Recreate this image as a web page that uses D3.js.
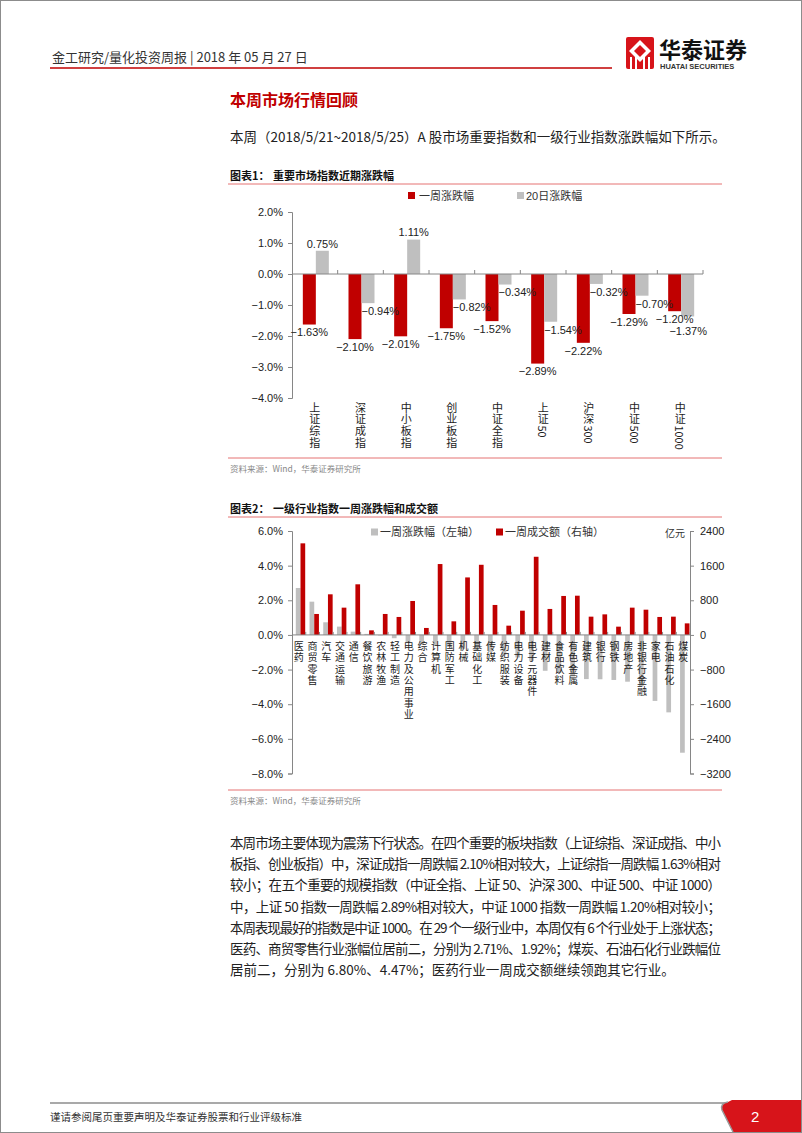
<!DOCTYPE html>
<html>
<head>
<meta charset="utf-8">
<script src="https://cdn.jsdelivr.net/npm/d3@7"></script>
<style>
  body { margin: 0; background: #fff; }
  svg text { font-family: "Liberation Sans", "Noto Sans CJK SC", sans-serif; }
  .cjk { font-family: "Noto Sans CJK SC", sans-serif; }
  .vlabel { writing-mode: vertical-rl; text-orientation: mixed; font-family: "Noto Sans CJK SC", sans-serif; }
</style>
</head>
<body>
<div id="page"></div>
<script>
// ---- chart 1: major index returns ----
const indexNames = ['上证综指', '深证成指', '中小板指', '创业板指', '中证全指', '上证50', '沪深300', '中证500', '中证1000'];
const weekChange = [-1.63, -2.10, -2.01, -1.75, -1.52, -2.89, -2.22, -1.29, -1.20];
const day20Change = [0.75, -0.94, 1.11, -0.82, -0.34, -1.54, -0.32, -0.70, -1.37];
const chart1Ticks = [2, 1, 0, -1, -2, -3, -4];

// ---- chart 2: industry returns and turnover ----
const industries = ['医药', '商贸零售', '汽车', '交通运输', '通信', '餐饮旅游', '农林牧渔', '轻工制造', '电力及公用事业',
  '综合', '计算机', '国防军工', '机械', '基础化工', '传媒', '纺织服装', '电力设备', '电子元器件', '建材', '食品饮料',
  '有色金属', '建筑', '银行', '钢铁', '房地产', '非银行金融', '家电', '石油石化', '煤炭'];
const industryChange = [2.71, 1.92, 0.73, 0.48, 0.19, 0.06, -0.03, -0.19, -0.45, -0.55, -0.62, -0.70, -0.80, -0.90,
  -1.00, -1.15, -1.30, -1.50, -2.07, -2.20, -2.40, -2.55, -2.56, -2.60, -2.70, -2.95, -3.81, -4.47, -6.80];
const industryTurnover = [2115, 484, 938, 630, 1169, 106, 484, 415, 784, 161, 1637, 314, 1328, 1620, 692, 214, 560,
  1805, 600, 900, 906, 422, 475, 191, 630, 583, 415, 422, 267];
const leftTicks2 = [6, 4, 2, 0, -2, -4, -6, -8];
const rightTicks2 = [2400, 1600, 800, 0, -800, -1600, -2400, -3200];

const bodyLines = [
  '本周市场主要体现为震荡下行状态。在四个重要的板块指数（上证综指、深证成指、中小',
  '板指、创业板指）中，深证成指一周跌幅 2.10%相对较大，上证综指一周跌幅 1.63%相对',
  '较小；在五个重要的规模指数（中证全指、上证 50、沪深 300、中证 500、中证 1000）',
  '中，上证 50 指数一周跌幅 2.89%相对较大，中证 1000 指数一周跌幅 1.20%相对较小；',
  '本周表现最好的指数是中证 1000。在 29 个一级行业中，本周仅有 6 个行业处于上涨状态；',
  '医药、商贸零售行业涨幅位居前二，分别为 2.71%、1.92%；煤炭、石油石化行业跌幅位',
  '居前二，分别为 6.80%、4.47%；医药行业一周成交额继续领跑其它行业。'
];

const RED = '#c00000';
const GRAY = '#bfbfbf';
const AXIS = '#868686';

const svg = d3.select('#page').append('svg')
  .attr('width', 802)
  .attr('height', 1133);

// page frame
svg.append('rect').attr('x', 0.5).attr('y', 0.5).attr('width', 801).attr('height', 1132)
  .attr('fill', '#fff').attr('stroke', '#8c8c8c');

// header
svg.append('text').attr('class', 'cjk').attr('x', 52).attr('y', 62).attr('font-size', 13).attr('fill', '#333')
  .text('金工研究/量化投资周报 | 2018 年 05 月 27 日');
svg.append('line').attr('x1', 50).attr('x2', 612).attr('y1', 68).attr('y2', 68)
  .attr('stroke', RED).attr('stroke-width', 1.5);

// logo
const logo = svg.append('g').attr('transform', 'translate(626,37)');
logo.append('rect').attr('width', 28).attr('height', 32).attr('rx', 2).attr('fill', '#d7141a');
logo.append('path').attr('d', 'M14 3 L25 14 L14 25 L3 14 Z').attr('fill', '#fff');
logo.append('path').attr('d', 'M14 8 L20 14 L14 20 L8 14 Z').attr('fill', '#d7141a');
[5, 10, 18, 23].forEach(x => logo.append('rect').attr('x', x - 1).attr('y', 20).attr('width', 2).attr('height', 12).attr('fill', '#fff'));
svg.append('text').attr('class', 'cjk').attr('x', 659).attr('y', 58).attr('font-size', 22).attr('font-weight', 'bold')
  .attr('fill', '#111').text('华泰证券');
svg.append('text').attr('x', 660).attr('y', 69).attr('font-size', 7.5).attr('font-weight', 'bold')
  .attr('fill', '#333').text('HUATAI SECURITIES');

// section heading and intro
svg.append('text').attr('class', 'cjk').attr('x', 230).attr('y', 106).attr('font-size', 16).attr('font-weight', 'bold')
  .attr('fill', RED).text('本周市场行情回顾');
svg.append('text').attr('class', 'cjk').attr('x', 230).attr('y', 142).attr('font-size', 13.5).attr('fill', '#222')
  .text('本周（2018/5/21~2018/5/25）A 股市场重要指数和一级行业指数涨跌幅如下所示。');

// figure title helper
function figTitle(y, num, title) {
  svg.append('text').attr('class', 'cjk').attr('x', 230).attr('y', y).attr('font-size', 11)
    .attr('font-weight', 'bold').attr('fill', '#111').text(num);
  svg.append('text').attr('class', 'cjk').attr('x', 273).attr('y', y).attr('font-size', 11)
    .attr('font-weight', 'bold').attr('fill', '#111').text(title);
  svg.append('line').attr('x1', 228).attr('x2', 722).attr('y1', y + 4).attr('y2', y + 4)
    .attr('stroke', '#e57373').attr('stroke-width', 1);
}
function sourceNote(y) {
  svg.append('line').attr('x1', 228).attr('x2', 722).attr('y1', y).attr('y2', y)
    .attr('stroke', '#e57373').attr('stroke-width', 1);
  svg.append('text').attr('class', 'cjk').attr('x', 230).attr('y', y + 14).attr('font-size', 8.5)
    .attr('fill', '#888').text('资料来源：Wind，华泰证券研究所');
}

// vertical category label: one text per CJK char (upright), latin runs turned sideways
function vertLabel(g, label, x, yTop, size, spacing) {
  let y = yTop;
  label.match(/[\x00-\x7f]+|[^\x00-\x7f]/g).forEach(p => {
    const t = g.append('text').attr('class', 'vlabel').attr('x', x).attr('y', y)
      .attr('font-size', size).attr('fill', '#222').text(p);
    y += t.node().getComputedTextLength() + spacing;
  });
}

// ================= chart 1 =================
figTitle(180, '图表1：', '重要市场指数近期涨跌幅');
const c1 = svg.append('g');
const x1 = d3.scaleBand().domain(indexNames).range([292, 703]);
const x1in = d3.scaleBand().domain(['week', 'day20'])
  .range([(x1.bandwidth() - 26) / 2 + 1, (x1.bandwidth() + 26) / 2 + 1]);
const y1 = d3.scaleLinear().domain([-4, 2]).range([398, 212]);

// legend
c1.append('rect').attr('x', 408).attr('y', 192).attr('width', 7).attr('height', 7).attr('fill', RED);
c1.append('text').attr('class', 'cjk').attr('x', 419).attr('y', 199.5).attr('font-size', 11).attr('fill', '#333').text('一周涨跌幅');
c1.append('rect').attr('x', 517).attr('y', 192).attr('width', 7).attr('height', 7).attr('fill', GRAY);
c1.append('text').attr('x', 526).attr('y', 199.5).attr('font-size', 11).attr('fill', '#333').text('20日涨跌幅');

// left axis
const ax1 = c1.append('g').attr('transform', 'translate(292,0)')
  .call(d3.axisLeft(y1).tickValues(chart1Ticks).tickSize(4).tickPadding(5).tickFormat(d => d3.format('.1f')(d) + '%'));
ax1.select('.domain').attr('stroke', AXIS);
ax1.selectAll('.tick line').attr('stroke', AXIS);
ax1.selectAll('.tick text').attr('font-size', 11).attr('fill', '#222').attr('font-family', '"Liberation Sans", sans-serif');

// bars
const g1 = c1.selectAll('.grp').data(indexNames).enter().append('g')
  .attr('transform', d => `translate(${x1(d)},0)`);
g1.append('rect').attr('x', x1in('week')).attr('width', x1in.bandwidth())
  .attr('y', (d, i) => y1(Math.max(0, weekChange[i])))
  .attr('height', (d, i) => Math.abs(y1(weekChange[i]) - y1(0))).attr('fill', RED);
g1.append('rect').attr('x', x1in('day20')).attr('width', x1in.bandwidth())
  .attr('y', (d, i) => y1(Math.max(0, day20Change[i])))
  .attr('height', (d, i) => Math.abs(y1(day20Change[i]) - y1(0))).attr('fill', GRAY);

// zero line and category ticks
c1.append('line').attr('x1', 292).attr('x2', 703).attr('y1', y1(0)).attr('y2', y1(0)).attr('stroke', AXIS);
indexNames.forEach(d => {
  const xb = x1(d) + x1.bandwidth();
  c1.append('line').attr('x1', xb).attr('x2', xb).attr('y1', y1(0)).attr('y2', y1(0) - 4).attr('stroke', AXIS);
});

// data labels
const fmt = d3.format('.2f');
const redLabels = [];
indexNames.forEach((d, i) => {
  const cx = x1(d) + x1in('week') + x1in.bandwidth() / 2;
  const cy = y1(weekChange[i]) + 8;
  const t = c1.append('text').attr('x', cx).attr('y', cy).attr('dy', '0.35em').attr('text-anchor', 'middle')
    .attr('font-size', 11).attr('fill', '#222').text(fmt(weekChange[i]) + '%');
  redLabels.push({ cx, cy, w: t.node().getComputedTextLength() });
});
indexNames.forEach((d, i) => {
  const v = day20Change[i];
  const bx = x1(d) + x1in('day20');
  const t = c1.append('text').attr('font-size', 11).attr('fill', '#222').attr('dy', '0.35em').text(fmt(v) + '%');
  const w = t.node().getComputedTextLength();
  if (v >= 0) {
    t.attr('x', bx + x1in.bandwidth() / 2).attr('text-anchor', 'middle').attr('y', y1(v) - 7);
  } else {
    const lx = Math.min(bx, 707 - w);
    let cy = y1(v) + 8;
    const r = redLabels[i];
    if (lx < r.cx + r.w / 2 && Math.abs(cy - r.cy) < 11) cy = r.cy + 11.5;
    t.attr('x', lx).attr('y', cy);
  }
});

// category labels
indexNames.forEach(d => vertLabel(c1, d, x1(d) + x1.bandwidth() / 2, 402, 11, 0.7));
sourceNote(458);

// ================= chart 2 =================
figTitle(513, '图表2：', '一级行业指数一周涨跌幅和成交额');
const c2 = svg.append('g');
const x2 = d3.scaleBand().domain(industries).range([292, 690]);
const x2in = d3.scaleBand().domain(['chg', 'amt']).range([3.8, 13.2]);
const y2L = d3.scaleLinear().domain([-8, 6]).range([773.5, 531]);
const y2R = d3.scaleLinear().domain([-3200, 2400]).range([773.5, 531]);

// legend
c2.append('rect').attr('x', 371).attr('y', 528.5).attr('width', 7).attr('height', 7).attr('fill', GRAY);
c2.append('text').attr('class', 'cjk').attr('x', 380).attr('y', 536).attr('font-size', 11).attr('fill', '#333').text('一周涨跌幅（左轴）');
c2.append('rect').attr('x', 496).attr('y', 528.5).attr('width', 7).attr('height', 7).attr('fill', RED);
c2.append('text').attr('class', 'cjk').attr('x', 505).attr('y', 536).attr('font-size', 11).attr('fill', '#333').text('一周成交额（右轴）');
c2.append('text').attr('class', 'cjk').attr('x', 685).attr('y', 537).attr('text-anchor', 'end').attr('font-size', 10)
  .attr('fill', '#333').text('亿元');

// axes
const axL = c2.append('g').attr('transform', 'translate(292,0)')
  .call(d3.axisLeft(y2L).tickValues(leftTicks2).tickSize(4).tickPadding(5).tickFormat(d => d3.format('.1f')(d) + '%'));
const axR = c2.append('g').attr('transform', 'translate(690,0)')
  .call(d3.axisRight(y2R).tickValues(rightTicks2).tickSize(4).tickPadding(6).tickFormat(d3.format('d')));
[axL, axR].forEach(a => {
  a.select('.domain').attr('stroke', AXIS);
  a.selectAll('.tick line').attr('stroke', AXIS);
  a.selectAll('.tick text').attr('font-size', 11).attr('fill', '#222').attr('font-family', '"Liberation Sans", sans-serif');
});

// bars
const g2 = c2.selectAll('.grp2').data(industries).enter().append('g')
  .attr('transform', d => `translate(${x2(d)},0)`);
g2.append('rect').attr('x', x2in('chg')).attr('width', x2in.bandwidth())
  .attr('y', (d, i) => y2L(Math.max(0, industryChange[i])))
  .attr('height', (d, i) => Math.abs(y2L(industryChange[i]) - y2L(0))).attr('fill', GRAY);
g2.append('rect').attr('x', x2in('amt')).attr('width', x2in.bandwidth())
  .attr('y', (d, i) => y2R(Math.max(0, industryTurnover[i])))
  .attr('height', (d, i) => Math.abs(y2R(industryTurnover[i]) - y2R(0))).attr('fill', RED);

// zero line and category ticks
c2.append('line').attr('x1', 292).attr('x2', 690).attr('y1', y2L(0)).attr('y2', y2L(0)).attr('stroke', AXIS);
industries.forEach(d => {
  const xb = x2(d) + x2.bandwidth();
  c2.append('line').attr('x1', xb).attr('x2', xb).attr('y1', y2L(0)).attr('y2', y2L(0) - 3).attr('stroke', AXIS);
});

// category labels
industries.forEach(d => vertLabel(c2, d, x2(d) + x2.bandwidth() / 2, y2L(0) + 6, 10, 1.4));
sourceNote(790);

// ================= body text =================
bodyLines.forEach((line, i) => {
  const t = svg.append('text').attr('class', 'cjk').attr('x', 230).attr('y', 848 + i * 21.2)
    .attr('font-size', 13.5).attr('fill', '#222').text(line);
  if (i < bodyLines.length - 1) t.attr('textLength', 491).attr('lengthAdjust', 'spacing');
});

// ================= footer =================
svg.append('line').attr('x1', 50).attr('x2', 728).attr('y1', 1103).attr('y2', 1103)
  .attr('stroke', '#8c8c8c').attr('stroke-width', 1.5);
svg.append('path').attr('d', 'M728 1102 Q720 1103 722 1110 L733 1132 L801 1132 L801 1100 L732 1100 Z')
  .attr('fill', '#d7141a');
svg.append('path').attr('d', 'M728 1102 Q720 1103 722 1110 L733 1132').attr('fill', 'none')
  .attr('stroke', '#9a9a9a').attr('stroke-width', 1.5);
svg.append('text').attr('x', 751).attr('y', 1122).attr('font-size', 15).attr('fill', '#fff').text('2');
svg.append('text').attr('class', 'cjk').attr('x', 50).attr('y', 1121).attr('font-size', 10.5).attr('fill', '#333')
  .text('谨请参阅尾页重要声明及华泰证券股票和行业评级标准');
</script>
</body>
</html>
